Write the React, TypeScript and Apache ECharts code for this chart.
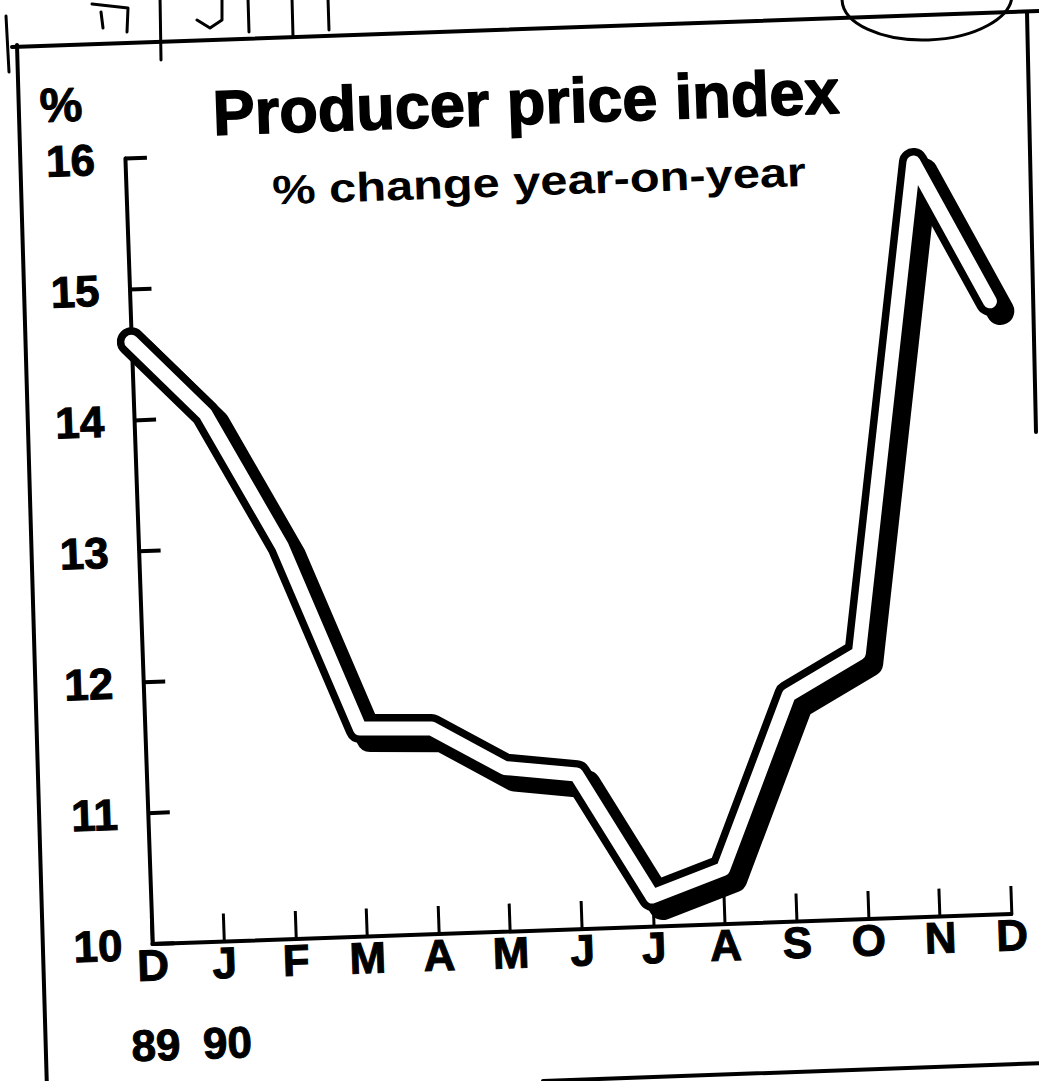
import React, { useEffect, useRef } from "react";
import * as echarts from "echarts";

// ---- data ----
const months = ["D", "J", "F", "M", "A", "M", "J", "J", "A", "S", "O", "N", "D"];
const years = ["89", "90", "", "", "", "", "", "", "", "", "", "", ""];
const ppiChange = [14.6, 14.03, 13.0, 11.59, 11.57, 11.25, 11.18, 10.23, 10.42, 11.73, 12.03, 15.76, 14.68];
const yTicks = [10, 11, 12, 13, 14, 15, 16];
const titleText = "Producer price index";
const subtitleText = "% change year-on-year";
const unitText = "%";

// ---- layout helpers (scanned page is tilted ~2 degrees) ----
const PAD = 40;
const ROT_DEG = 2;
const DIV_W = 1119;
const DIV_H = 1161;
function P(x: number, y: number): [number, number] {
  const cx = 519.5, cy = 540.5;
  const a = (ROT_DEG * Math.PI) / 180;
  const dx = x - cx, dy = y - cy;
  const c = Math.cos(a), s = Math.sin(a);
  return [c * dx - s * dy + cx + PAD, s * dx + c * dy + cy + PAD];
}

const FONT = '"Liberation Sans", Arial, Helvetica, sans-serif';

export default function App() {
  const ref = useRef<HTMLDivElement>(null);
  useEffect(() => {
    if (!ref.current) return;
    const chart = echarts.init(ref.current, null, { renderer: "svg" });
    const gLeft = 138.5 + PAD;
    const gTop = 145 + PAD;
    const gW = 859.5;
    const gH = 786;
    const sh = 10;

    const line = (pts: [number, number][], w = 4) => ({
      type: "polyline",
      shape: { points: pts.map(([x, y]) => P(x, y)) },
      style: { stroke: "#000", lineWidth: w, fill: null, lineCap: "round", lineJoin: "round" },
      silent: true,
    });

    const [tx, ty] = P(526, 102);
    const [sx, sy] = P(539, 181);
    const [ux, uy] = P(61, 105);
    const [ex, ey] = P(927, -3);

    const option: any = {
      animation: false,
      backgroundColor: "#fff",
      grid: [
        { left: gLeft, top: gTop, width: gW, height: gH, containLabel: false },
        { left: gLeft + sh, top: gTop + sh, width: gW, height: gH, containLabel: false },
      ],
      xAxis: [
        {
          type: "category",
          gridIndex: 0,
          data: months,
          boundaryGap: false,
          axisLine: { show: true, onZero: false, lineStyle: { color: "#000", width: 4 } },
          axisTick: { show: true, inside: true, length: 28, interval: 0, lineStyle: { color: "#000", width: 3 } },
          axisLabel: {
            interval: 0,
            margin: -19,
            verticalAlign: "top",
            lineHeight: 80,
            color: "#000",
            fontFamily: FONT,
            fontWeight: "bold",
            fontSize: 44,
            textBorderColor: "#000",
            textBorderWidth: 1,
            formatter: (v: string, i: number) => (years[i] ? `${v}\n${years[i]}` : v),
          },
          splitLine: { show: false },
        },
        {
          type: "category",
          gridIndex: 1,
          data: months,
          boundaryGap: false,
          show: false,
        },
      ],
      yAxis: [
        {
          type: "value",
          gridIndex: 0,
          min: yTicks[0],
          max: yTicks[yTicks.length - 1],
          interval: 1,
          axisLine: { show: true, lineStyle: { color: "#000", width: 4 } },
          axisTick: { show: true, inside: true, length: 22, lineStyle: { color: "#000", width: 4 } },
          axisLabel: {
            margin: 30,
            color: "#000",
            fontFamily: FONT,
            fontWeight: "bold",
            fontSize: 44,
            textBorderColor: "#000",
            textBorderWidth: 1,
            formatter: (v: number) => (yTicks.indexOf(v) >= 0 ? String(v) : ""),
          },
          splitLine: { show: false },
        },
        {
          type: "value",
          gridIndex: 1,
          min: yTicks[0],
          max: yTicks[yTicks.length - 1],
          interval: 1,
          show: false,
        },
      ],
      series: [
        {
          type: "line",
          xAxisIndex: 1,
          yAxisIndex: 1,
          data: ppiChange,
          symbol: "none",
          clip: false,
          z: 1,
          lineStyle: { color: "#000", width: 28, cap: "round", join: "round" },
        },
        {
          type: "line",
          xAxisIndex: 0,
          yAxisIndex: 0,
          data: ppiChange,
          symbol: "none",
          clip: false,
          z: 2,
          lineStyle: { color: "#000", width: 29, cap: "round", join: "round" },
        },
        {
          type: "line",
          xAxisIndex: 0,
          yAxisIndex: 0,
          data: ppiChange,
          symbol: "none",
          clip: false,
          z: 3,
          lineStyle: { color: "#fff", width: 14, cap: "round", join: "round" },
        },
      ],
      graphic: [
        // frame
        line([[12, 47], [1039, 11]], 4),
        line([[17, 45], [47, 1090]], 4),
        line([[1027, 12], [1036, 432]], 4),
        line([[543, 1081], [1045, 1063]], 4),
        // hand marks at the top
        line([[6, 16], [9, 72]], 3),
        line([[92, 4], [128, 8], [127, 32]], 3),
        line([[101, 12], [103, 28]], 3),
        line([[160, -5], [161, 60]], 3),
        line([[222, -2], [222, 20], [210, 28], [197, 20]], 3),
        line([[248, -2], [249, 32]], 3),
        line([[292, -2], [293, 36]], 3),
        line([[328, -2], [329, 30]], 3),
        {
          type: "ellipse",
          shape: { cx: ex, cy: ey, rx: 85, ry: 43 },
          style: { stroke: "#000", lineWidth: 3, fill: null },
          silent: true,
        },
        {
          type: "text",
          x: tx,
          y: ty,
          style: {
            text: titleText,
            fill: "#000",
            fontFamily: FONT,
            fontWeight: "bold",
            fontSize: 63,
            align: "center",
            verticalAlign: "middle",
            stroke: "#000",
            lineWidth: 1.5,
          },
        },
        {
          type: "text",
          x: sx,
          y: sy,
          scaleX: 1.19,
          style: {
            text: subtitleText,
            fill: "#000",
            fontFamily: FONT,
            fontWeight: "bold",
            fontSize: 41,
            align: "center",
            verticalAlign: "middle",
          },
        },
        {
          type: "text",
          x: ux,
          y: uy,
          style: {
            text: unitText,
            fill: "#000",
            fontFamily: FONT,
            fontWeight: "bold",
            fontSize: 48,
            align: "center",
            verticalAlign: "middle",
            stroke: "#000",
            lineWidth: 1,
          },
        },
      ],
    };
    chart.setOption(option);
    return () => chart.dispose();
  }, []);

  return (
    <div
      style={{
        position: "fixed",
        left: 0,
        top: 0,
        width: 1039,
        height: 1081,
        overflow: "hidden",
        background: "#fff",
      }}
    >
      <div
        ref={ref}
        style={{
          position: "absolute",
          left: -PAD,
          top: -PAD,
          width: DIV_W,
          height: DIV_H,
          transform: `rotate(${-ROT_DEG}deg)`,
          transformOrigin: "50% 50%",
        }}
      />
    </div>
  );
}
